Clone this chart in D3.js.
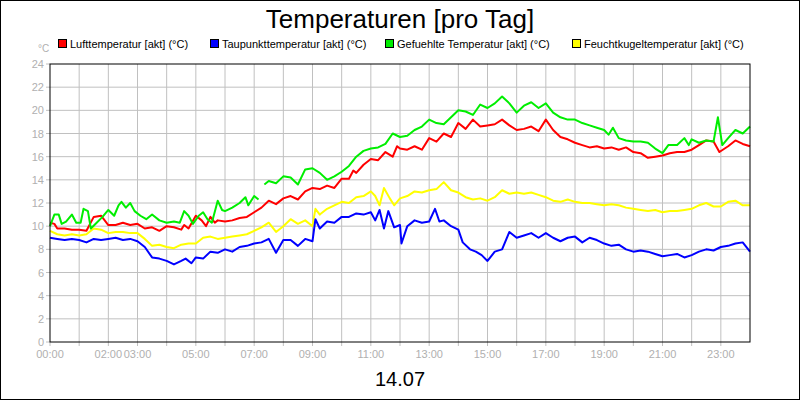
<!DOCTYPE html>
<html><head><meta charset="utf-8">
<script src="https://cdn.jsdelivr.net/npm/d3@7"></script>
<style>body{margin:0;background:#fff}svg{font-family:"Liberation Sans",Arial,sans-serif}</style>
</head><body><svg id="c" width="800" height="400"></svg>
<script>
const seriesNames=["Lufttemperatur [akt] (°C)","Taupunkttemperatur [akt] (°C)","Gefuehlte Temperatur [akt] (°C)","Feuchtkugeltemperatur [akt] (°C)"];
const colors=["#ff0000","#0000ff","#00ee00","#ffff00"];
const xTickHours=[0,2,3,5,7,9,11,13,15,17,19,21,23];
const xTickLabels=["00:00","02:00","03:00","05:00","07:00","09:00","11:00","13:00","15:00","17:00","19:00","21:00","23:00"];
const yTicks=[0,2,4,6,8,10,12,14,16,18,20,22,24];
const dateLabel="14.07";
const luft=[[0,10.3],[0.15,10.2],[0.25,9.8],[0.5,9.8],[0.75,9.7],[1,9.7],[1.25,9.6],[1.5,10.8],[1.75,10.9],[2,10.1],[2.25,10.1],[2.5,10.3],[2.75,10.1],[3,10.2],[3.25,9.8],[3.5,9.9],[3.75,9.6],[4,10.0],[4.25,9.9],[4.5,9.7],[4.6,10.1],[4.75,9.8],[5,10.9],[5.2,10.5],[5.35,10.0],[5.5,10.8],[5.65,10.3],[5.75,10.5],[6,10.4],[6.25,10.5],[6.5,10.7],[6.75,10.8],[7,11.2],[7.25,11.6],[7.5,12.2],[7.75,11.9],[8,12.4],[8.25,12.6],[8.5,12.3],[8.75,13.0],[9,13.3],[9.25,13.2],[9.5,13.5],[9.75,13.3],[10,14.1],[10.25,14.1],[10.4,14.8],[10.5,14.6],[10.75,15.3],[11,15.8],[11.25,15.7],[11.5,16.4],[11.75,16.0],[11.9,16.9],[12,16.7],[12.25,16.6],[12.5,16.9],[12.75,16.6],[13,17.6],[13.25,17.3],[13.5,18.0],[13.75,17.7],[14,18.9],[14.25,18.4],[14.5,19.2],[14.75,18.6],[15,18.7],[15.25,18.8],[15.5,19.2],[15.75,18.7],[16,18.3],[16.25,18.4],[16.5,18.6],[16.75,18.2],[17,19.2],[17.25,18.3],[17.5,17.7],[17.75,17.5],[18,17.2],[18.25,17.0],[18.5,16.8],[18.75,16.9],[19,16.7],[19.25,16.8],[19.5,16.6],[19.75,16.8],[20,16.4],[20.25,16.3],[20.5,15.9],[20.75,16.0],[21,16.1],[21.25,16.3],[21.5,16.4],[21.75,16.4],[22,16.6],[22.25,17.0],[22.5,17.4],[22.75,17.3],[22.95,16.4],[23.25,16.9],[23.5,17.4],[23.75,17.1],[24,16.9]];
const tau=[[0,9.0],[0.25,8.9],[0.5,8.8],[0.75,8.9],[1,8.8],[1.25,8.6],[1.5,8.9],[1.75,8.8],[2,8.9],[2.25,9.0],[2.5,8.8],[2.75,8.9],[3,8.7],[3.25,8.2],[3.5,7.3],[3.75,7.2],[4,7.0],[4.25,6.7],[4.5,7.0],[4.65,7.2],[4.85,6.8],[5,7.3],[5.25,7.2],[5.5,7.8],[5.75,7.7],[6,8.0],[6.25,7.8],[6.5,8.2],[6.75,8.3],[7,8.5],[7.25,8.6],[7.5,8.9],[7.75,7.7],[8,8.8],[8.25,8.8],[8.5,8.3],[8.75,8.9],[9,8.7],[9.1,10.6],[9.25,9.8],[9.5,10.4],[9.75,10.3],[10,10.8],[10.25,10.8],[10.5,11.1],[10.75,11.0],[11,11.2],[11.15,10.5],[11.3,11.4],[11.45,9.8],[11.6,11.3],[11.8,9.9],[12,10.1],[12.05,8.5],[12.25,10.0],[12.5,10.5],[12.75,10.3],[13,10.4],[13.2,11.5],[13.35,10.4],[13.5,10.5],[13.75,10.0],[14,9.7],[14.15,8.6],[14.4,8.0],[14.6,7.8],[14.8,7.5],[15,7.0],[15.25,7.8],[15.5,8.0],[15.75,9.5],[16,9.0],[16.25,9.2],[16.5,9.4],[16.75,9.0],[17,9.4],[17.25,9.0],[17.5,8.7],[17.75,9.0],[18,9.1],[18.25,8.6],[18.5,9.0],[18.75,8.8],[19,8.5],[19.25,8.3],[19.5,8.4],[19.75,8.0],[20,7.8],[20.25,7.9],[20.5,7.8],[20.75,7.6],[21,7.4],[21.25,7.5],[21.5,7.6],[21.75,7.3],[22,7.5],[22.25,7.8],[22.5,8.0],[22.75,7.9],[23,8.2],[23.25,8.3],[23.5,8.5],[23.75,8.6],[24,7.8]];
const gefuehlt=[[0,10.0],[0.15,11.0],[0.3,11.0],[0.4,10.2],[0.55,10.4],[0.75,11.0],[0.9,10.3],[1.05,10.3],[1.15,11.5],[1.3,11.3],[1.4,9.8],[1.6,10.3],[1.8,10.8],[2,11.4],[2.2,10.9],[2.35,11.8],[2.45,12.1],[2.6,11.6],[2.75,12.0],[2.9,11.3],[3.1,10.9],[3.3,10.6],[3.5,11.0],[3.75,10.5],[4,10.3],[4.25,10.4],[4.45,10.3],[4.6,11.3],[4.75,10.9],[4.9,10.2],[5.1,10.9],[5.25,11.2],[5.4,10.6],[5.55,10.3],[5.75,12.2],[5.9,11.4],[6,11.3],[6.25,11.6],[6.5,12.0],[6.7,12.5],[6.8,11.8],[7,12.6],[7.15,12.3],[7.25,null],[7.35,13.6],[7.5,13.9],[7.75,13.7],[8,14.3],[8.25,14.2],[8.5,13.6],[8.75,14.9],[9,15.0],[9.25,14.6],[9.5,14.0],[9.75,14.3],[10,14.7],[10.25,15.2],[10.5,16.0],[10.75,16.5],[11,16.7],[11.25,16.8],[11.5,17.1],[11.75,18.0],[12,17.7],[12.25,17.8],[12.5,18.3],[12.75,18.6],[13,19.2],[13.25,18.9],[13.5,18.8],[13.75,19.4],[14,20.0],[14.25,19.9],[14.5,19.6],[14.75,20.5],[15,20.2],[15.25,20.6],[15.5,21.2],[15.75,20.6],[16,19.8],[16.25,20.4],[16.5,20.7],[16.75,20.2],[17,20.6],[17.25,19.8],[17.5,19.4],[17.75,19.2],[18,19.2],[18.25,18.9],[18.5,18.7],[18.75,18.5],[19,18.3],[19.15,17.9],[19.3,18.5],[19.5,17.6],[19.75,17.4],[20,17.3],[20.25,17.3],[20.5,17.2],[20.75,16.7],[21,16.3],[21.2,17.0],[21.5,17.0],[21.75,17.6],[21.9,17.0],[22,17.5],[22.25,17.2],[22.5,17.4],[22.75,17.3],[22.9,19.4],[23.05,17.0],[23.25,17.6],[23.5,18.3],[23.75,18.0],[24,18.6]];
const feucht=[[0,9.6],[0.25,9.3],[0.5,9.2],[0.75,9.3],[1,9.2],[1.25,9.3],[1.5,9.8],[1.75,9.7],[2,9.4],[2.25,9.5],[2.5,9.5],[2.75,9.4],[3,9.4],[3.25,8.9],[3.5,8.3],[3.75,8.4],[4,8.2],[4.25,8.1],[4.5,8.4],[4.75,8.5],[5,8.5],[5.25,9.0],[5.5,9.1],[5.75,8.9],[6,9.0],[6.25,9.1],[6.5,9.2],[6.75,9.3],[7,9.6],[7.25,9.9],[7.5,10.3],[7.75,9.5],[8,10.0],[8.25,10.6],[8.5,10.2],[8.75,10.5],[9,10.0],[9.1,11.5],[9.25,11.0],[9.5,11.5],[9.75,11.8],[10,12.1],[10.25,12.0],[10.5,12.5],[10.75,12.6],[11,13.0],[11.15,12.6],[11.3,11.8],[11.45,13.3],[11.65,12.4],[11.8,11.8],[12,12.4],[12.25,12.6],[12.5,13.0],[12.75,12.9],[13,13.1],[13.25,13.2],[13.5,13.8],[13.75,13.1],[14,12.9],[14.25,12.5],[14.5,12.3],[14.75,12.4],[15,12.2],[15.25,12.5],[15.5,13.1],[15.75,12.8],[16,12.9],[16.25,12.8],[16.5,12.9],[16.75,12.7],[17,12.5],[17.25,12.2],[17.5,12.1],[17.75,12.3],[18,12.1],[18.25,12.0],[18.5,12.0],[18.75,11.9],[19,11.8],[19.25,11.9],[19.5,11.8],[19.75,11.6],[20,11.5],[20.25,11.4],[20.5,11.3],[20.75,11.4],[21,11.2],[21.25,11.3],[21.5,11.3],[21.75,11.4],[22,11.5],[22.25,11.8],[22.5,12.0],[22.75,11.7],[23,11.7],[23.25,12.1],[23.5,12.2],[23.75,11.8],[24,11.8]];
const allSeries=[luft,tau,gefuehlt,feucht];

const svg=d3.select("#c");
svg.append("rect").attr("x",0.5).attr("y",0.5).attr("width",799).attr("height",399).attr("fill","#fff").attr("stroke","#000");
const L=50,R=750,T=64,B=342;
const x=d3.scaleLinear().domain([0,24]).range([L,R]);
const y=d3.scaleLinear().domain([0,24]).range([B,T]);
const g=svg.append("g");
g.selectAll(".vg").data(d3.range(1,24)).join("line").attr("x1",d=>x(d)).attr("x2",d=>x(d)).attr("y1",T).attr("y2",B+4).attr("stroke","#c0c0c0");
g.selectAll(".hg").data(yTicks.slice(1,-1)).join("line").attr("x1",L-4).attr("x2",R).attr("y1",d=>y(d)).attr("y2",d=>y(d)).attr("stroke","#c0c0c0");
g.append("line").attr("x1",L-4).attr("x2",L).attr("y1",B).attr("y2",B).attr("stroke","#c0c0c0");
g.append("line").attr("x1",L-4).attr("x2",L).attr("y1",T).attr("y2",T).attr("stroke","#c0c0c0");
g.append("line").attr("x1",L).attr("x2",L).attr("y1",B).attr("y2",B+4).attr("stroke","#c0c0c0");
g.selectAll(".yl").data(yTicks).join("text").attr("x",L-6).attr("y",d=>y(d)+4).attr("text-anchor","end").attr("font-size",11).attr("fill","#b0b0b0").text(d=>d);
g.selectAll(".xl").data(xTickHours).join("text").attr("x",d=>x(d)).attr("y",B+16).attr("text-anchor","middle").attr("font-size",11).attr("fill","#b0b0b0").text((d,i)=>xTickLabels[i]);
svg.append("text").attr("x",38).attr("y",52).attr("font-size",10).attr("fill","#b0b0b0").text("°C");
const line=d3.line().defined(d=>d[1]!=null).x(d=>x(d[0])).y(d=>y(d[1]));
const order=[3,1,0,2];
order.forEach(i=>{svg.append("path").datum(allSeries[i]).attr("d",line).attr("fill","none").attr("stroke",colors[i]).attr("stroke-width",2).attr("stroke-linejoin","round");});
svg.append("rect").attr("x",L).attr("y",T).attr("width",R-L).attr("height",B-T).attr("fill","none").attr("stroke","#000");
svg.append("text").attr("x",400).attr("y",28).attr("text-anchor","middle").attr("font-size",26).text("Temperaturen [pro Tag]");
const legX=[58,210,385,572];
seriesNames.forEach((n,i)=>{
  svg.append("rect").attr("x",legX[i]+0.5).attr("y",39.5).attr("width",8).attr("height",8).attr("fill",colors[i]).attr("stroke","#000");
  svg.append("text").attr("x",legX[i]+12).attr("y",48).attr("font-size",11).text(n);
});
svg.append("text").attr("x",400).attr("y",386).attr("text-anchor","middle").attr("font-size",20).text(dateLabel);
</script></body></html>
